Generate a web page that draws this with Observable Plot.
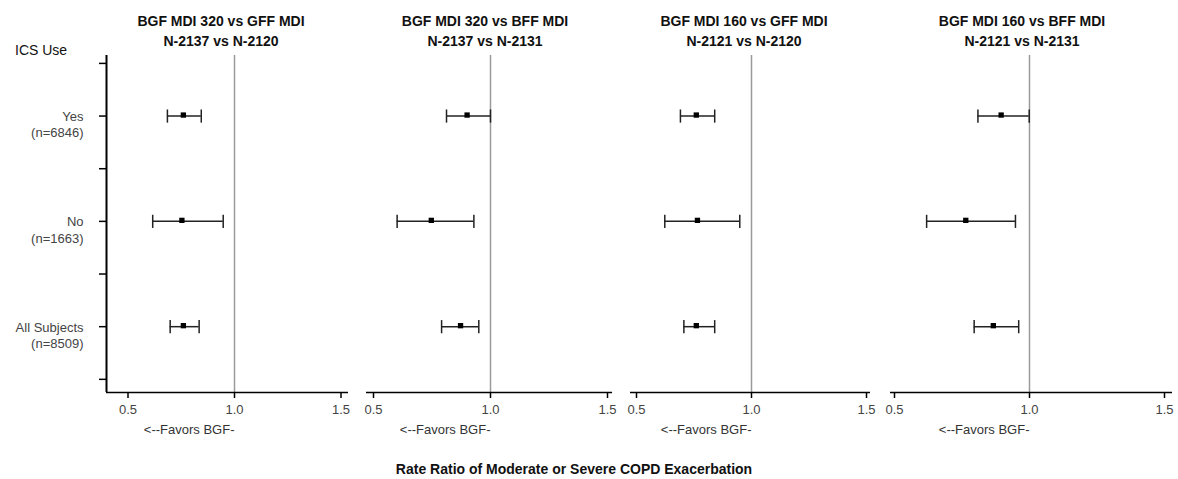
<!DOCTYPE html>
<html>
<head>
<meta charset="utf-8">
<script src="https://cdn.jsdelivr.net/npm/d3@7"></script>
<script src="https://cdn.jsdelivr.net/npm/@observablehq/plot@0.6"></script>
<style>
  html, body { margin: 0; padding: 0; background: #fff; }
  #wrap { position: relative; width: 1178px; height: 479px; overflow: hidden; font-family: "Liberation Sans", Arial, sans-serif; }
  .layer { position: absolute; left: 0; top: 0; }
  .ptitle { position: absolute; top: 11px; width: 300px; margin-left: -150px; text-align: center; font-size: 14px; font-weight: bold; line-height: 20px; color: #111; white-space: nowrap; }
  .yhead { position: absolute; left: 15px; top: 42px; font-size: 14px; line-height: 16px; color: #111; }
  .xtitle { position: absolute; top: 461px; font-size: 14px; font-weight: bold; line-height: 16px; color: #111; white-space: nowrap; transform: translateX(-50%); }
</style>
</head>
<body>
<div id="wrap"></div>
<script>
// ---------------- data ----------------
const panelTitles = ["BGF MDI 320 vs GFF MDI", "BGF MDI 320 vs BFF MDI", "BGF MDI 160 vs GFF MDI", "BGF MDI 160 vs BFF MDI"];
const panelCounts = ["N-2137 vs N-2120", "N-2137 vs N-2131", "N-2121 vs N-2120", "N-2121 vs N-2131"];
const subgroups = ["Yes", "No", "All Subjects"];
const subgroupCounts = ["(n=6846)", "(n=1663)", "(n=8509)"];
// rows: Yes, No, All Subjects ; one list per panel
const estimate = [[0.760, 0.753, 0.760], [0.900, 0.747, 0.872], [0.760, 0.765, 0.760], [0.895, 0.764, 0.866]];
const lowerCI  = [[0.685, 0.616, 0.698], [0.812, 0.601, 0.791], [0.691, 0.623, 0.706], [0.809, 0.619, 0.795]];
const upperCI  = [[0.844, 0.947, 0.834], [1.000, 0.929, 0.950], [0.840, 0.949, 0.840], [0.999, 0.948, 0.960]];
const xTicks = [0.5, 1.0, 1.5];
const refValue = 1.0;
const xLabel = "<--Favors BGF-";
const yHeader = "ICS Use";
const axisTitle = "Rate Ratio of Moderate or Severe COPD Exacerbation";

// ---------------- layout ----------------
const W = 1178, H = 479, TOP = 55, BOTTOM = 392;
const frames = [[106, 348], [366, 612], [630, 870], [890, 1172]];
const tickPx = [[127.5, 340.5], [373, 607], [636, 866], [894, 1164]];   // pixel of 0.5 and 1.5
const titleCenters = [221, 485, 744, 1022];
const yDomain = [0.75, 7.15];
const cap = 0.125;
const font = "Liberation Sans, Arial, sans-serif";

const wrap = document.getElementById("wrap");

panelTitles.forEach((t, p) => {
  const [fl, fr] = frames[p];
  const [p05, p15] = tickPx[p];
  const unit = p15 - p05;
  const xDomain = [0.5 + (fl - p05) / unit, 0.5 + (fr - p05) / unit];
  const rows = subgroups.map((g, i) => ({
    group: g, n: subgroupCounts[i], pos: 6 - 2 * i,
    est: estimate[p][i], lo: lowerCI[p][i], hi: upperCI[p][i]
  }));
  const marks = [
    Plot.ruleX([refValue], {stroke: "#9a9a9a", strokeWidth: 1.5}),
    Plot.ruleY([yDomain[0]], {stroke: "#000", strokeWidth: 1.5}),
    Plot.axisX({ticks: xTicks, tickFormat: d3.format(".1f"), tickSize: 6, tickPadding: 6, fontSize: 13, fill: "#444", stroke: "#000", strokeWidth: 1.5, label: null}),
    Plot.ruleY(rows, {y: "pos", x1: "lo", x2: "hi", stroke: "#222", strokeWidth: 1.5}),
    Plot.link(rows, {x1: "lo", x2: "lo", y1: d => d.pos - cap, y2: d => d.pos + cap, stroke: "#222", strokeWidth: 1.5}),
    Plot.link(rows, {x1: "hi", x2: "hi", y1: d => d.pos - cap, y2: d => d.pos + cap, stroke: "#222", strokeWidth: 1.5}),
    Plot.dot(rows, {x: "est", y: "pos", symbol: "square", r: 3, fill: "#000", stroke: "none", dy: -1}),
    Plot.text([xLabel], {x: () => refValue, text: d => d, frameAnchor: "bottom", textAnchor: "end", dy: 41, fontSize: 13, fill: "#333"})
  ];
  if (p === 0) {
    marks.push(
      Plot.ruleX([xDomain[0]], {stroke: "#000", strokeWidth: 2}),
      Plot.axisY({ticks: d3.range(1, 8), tickSize: 7, tickFormat: () => "", stroke: "#000", strokeWidth: 1.5, label: null}),
      Plot.text(rows, {y: "pos", frameAnchor: "left", text: d => d.group + "\n" + d.n, textAnchor: "end", dx: -23, lineAnchor: "middle", dy: 8, lineHeight: 1.25, fontSize: 13, fill: "#444"})
    );
  }
  const chart = Plot.plot({
    width: W, height: H,
    marginLeft: fl, marginRight: W - fr, marginTop: TOP, marginBottom: H - BOTTOM,
    x: {domain: xDomain},
    y: {domain: yDomain, axis: p === 0 ? undefined : null},
    style: {background: "transparent", overflow: "visible", fontFamily: font},
    marks
  });
  chart.classList.add("layer");
  wrap.appendChild(chart);

  const td = document.createElement("div");
  td.className = "ptitle";
  td.style.left = titleCenters[p] + "px";
  td.textContent = t + "\n" + panelCounts[p];
  td.style.whiteSpace = "pre";
  wrap.appendChild(td);
});

const yh = document.createElement("div");
yh.className = "yhead";
yh.textContent = yHeader;
wrap.appendChild(yh);

const xt = document.createElement("div");
xt.className = "xtitle";
xt.style.left = "574px";
xt.textContent = axisTitle;
wrap.appendChild(xt);
</script>
</body>
</html>
